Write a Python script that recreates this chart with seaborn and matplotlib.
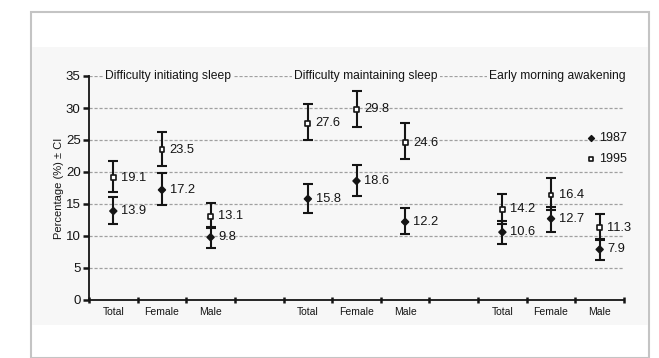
import matplotlib
matplotlib.use("Agg")
import matplotlib.pyplot as plt
import seaborn as sns
import pandas as pd
from matplotlib.patches import Rectangle

sns.set_theme(style="white")
plt.rcParams['font.family'] = ['Liberation Sans', 'DejaVu Sans']

groups = ["Difficulty initiating sleep", "Difficulty maintaining sleep", "Early morning awakening"]
categories = ["Total", "Female", "Male"]
years = ["1987", "1995"]

val_1987 = [13.9, 17.2, 9.8, 15.8, 18.6, 12.2, 10.6, 12.7, 7.9]
lo_1987 = [11.9, 14.9, 8.1, 13.6, 16.3, 10.3, 8.8, 10.7, 6.3]
hi_1987 = [16.1, 19.8, 11.4, 18.2, 21.1, 14.4, 12.3, 14.6, 9.6]

val_1995 = [19.1, 23.5, 13.1, 27.6, 29.8, 24.6, 14.2, 16.4, 11.3]
lo_1995 = [16.9, 21.0, 11.3, 25.0, 27.0, 22.0, 11.9, 14.0, 9.3]
hi_1995 = [21.7, 26.3, 15.2, 30.7, 32.7, 27.6, 16.6, 19.0, 13.4]

yticks = [0, 5, 10, 15, 20, 25, 30, 35]

rows = []
for i in range(9):
    g, c = divmod(i, 3)
    pos = g * 4 + c + 0.5
    rows.append(dict(pos=pos, year="1987", value=val_1987[i], lo=lo_1987[i], hi=hi_1987[i]))
    rows.append(dict(pos=pos, year="1995", value=val_1995[i], lo=lo_1995[i], hi=hi_1995[i]))
df = pd.DataFrame(rows)

INK = '#151515'
fig = plt.figure(figsize=(6.59, 3.58), dpi=100)
W, H = 659, 358
# outer frame and inner light panel
fig.patches.append(Rectangle((31 / W, 0), 618 / W, (358 - 12) / H, transform=fig.transFigure,
                             facecolor='white', edgecolor='#c4c4c4', linewidth=1.5, zorder=-10))
fig.patches.append(Rectangle((32 / W, 1 - 325 / H), 616 / W, (325 - 47) / H, transform=fig.transFigure,
                             facecolor='#f7f7f7', edgecolor='none', zorder=-9))

ax = fig.add_axes([89 / W, 1 - 300 / H, (624 - 89) / W, (300 - 76) / H])
ax.set_facecolor('none')
ax.set_zorder(5)

for y in yticks[1:]:
    ax.axhline(y, color='#a0a0a0', lw=0.9, ls=(0, (2.5, 1.5)), zorder=1)

for _, r in df.iterrows():
    ax.errorbar(r.pos, r.value, yerr=[[r.value - r.lo], [r.hi - r.value]], fmt='none',
                ecolor=INK, elinewidth=1.5, capsize=3.5, capthick=1.5, zorder=3)

sns.scatterplot(data=df, x='pos', y='value', style='year', hue='year',
                markers={"1987": "D", "1995": "s"},
                palette={"1987": INK, "1995": "white"},
                s=12, edgecolor=INK, linewidth=1.2, ax=ax, zorder=4, legend=False)

for _, r in df.iterrows():
    ax.text(r.pos + 0.16, r.value, f"{r.value:.1f}", va='center', ha='left', fontsize=9.3,
            color=INK, zorder=5)

title_x = [1.62, 5.7, 9.63]
for t, xt in zip(groups, title_x):
    ax.text(xt, 35, t, ha='center', va='center', fontsize=8.7, color=INK, zorder=6,
            bbox=dict(facecolor='#f7f7f7', edgecolor='none', pad=1.5))

# legend
ax.scatter([10.33], [25.3], marker='D', s=9, color=INK, zorder=6, clip_on=False)
ax.text(10.48, 25.3, years[0], va='center', ha='left', fontsize=9, color=INK)
ax.scatter([10.33], [22.0], marker='s', s=12, facecolor='white', edgecolor=INK, lw=1.2, zorder=6, clip_on=False)
ax.text(10.48, 22.0, years[1], va='center', ha='left', fontsize=9, color=INK)

ax.set_xlim(0, 11)
ax.set_ylim(0, 35)
ax.set_yticks(yticks)
ax.set_yticklabels([str(v) for v in yticks], fontsize=9.5, color=INK)
ax.set_xticks(range(12))
ax.set_xticklabels([])
cat_pos = [g * 4 + c + 0.5 for g in range(3) for c in range(3)]
ax.set_xticks(cat_pos, minor=True)
ax.set_xticklabels(categories * 3, minor=True, fontsize=7.5, color=INK)
ax.tick_params(axis='x', which='major', direction='inout', length=5, width=1.8, color=INK, bottom=True)
ax.tick_params(axis='x', which='minor', length=0, pad=5, bottom=True)
ax.tick_params(axis='y', direction='out', length=4, width=1.8, color=INK, left=True, pad=2)
ax.set_xlabel('')
ax.set_ylabel('Percentage (%) ± CI', fontsize=8, labelpad=1, color=INK)
for s in ['top', 'right']:
    ax.spines[s].set_visible(False)
for s in ['left', 'bottom']:
    ax.spines[s].set_color(INK)
    ax.spines[s].set_linewidth(1.3)

fig.savefig('out.png', dpi=100)
